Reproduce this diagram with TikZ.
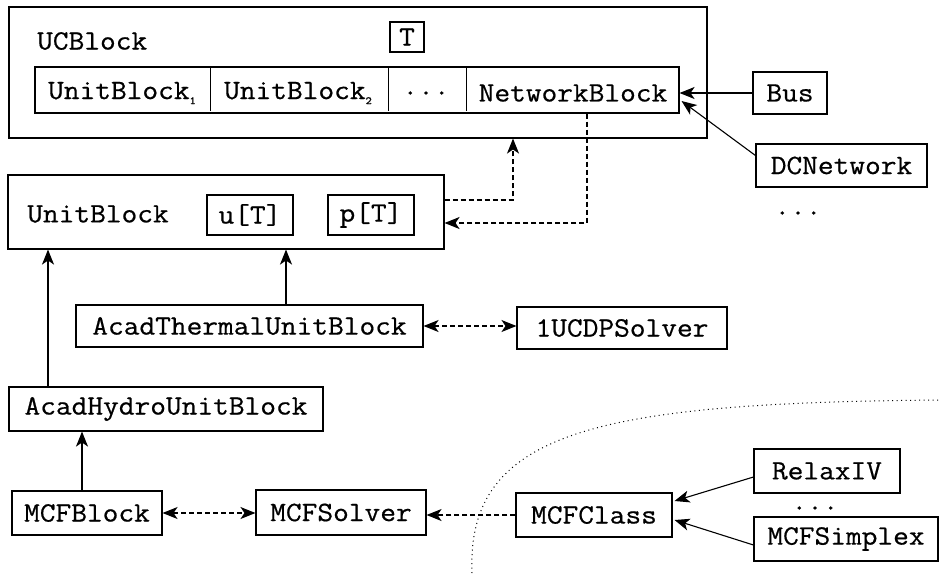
\documentclass[tikz,border=0pt]{standalone}
\usepackage{fontspec}
\newfontfamily\codefont[FakeStretch=1.09,FakeBold=0.6]{Latin Modern Mono}
\usetikzlibrary{arrows.meta,calc}
\tikzset{
  base/.style={font=\codefont\fontsize{28}{30}\selectfont, inner sep=0pt},
  box/.style={base, draw, line width=1.1pt, rectangle},
  lbl/.style={base},
  conn/.style={line width=1.1pt},
  arr/.style={conn, -{Stealth[length=15pt,width=12pt,inset=4pt]}},
  darr/.style={conn, {Stealth[length=15pt,width=12pt,inset=4pt]}-{Stealth[length=15pt,width=12pt,inset=4pt]}},
  dsh/.style={dash pattern=on 5pt off 3pt},
  sep/.style={line width=1pt, dash pattern=on 1pt off 3.5pt}
}
\newcommand{\sub}[1]{{\fontsize{11}{11}\selectfont\raisebox{-5pt}{#1}}}
\begin{document}
\begin{tikzpicture}[x=1pt,y=-1pt]
\useasboundingbox (0,0) rectangle (939,573);

% UCBlock container
\node[box, minimum width=698pt, minimum height=131pt] (ucb) at (358,72.5) {};
\node[lbl, anchor=west] (ucblbl) at (37,41) {UCBlock};
\node[box, minimum width=34pt, minimum height=30pt] (T) at (407,37) {T};
\node[box, minimum width=644pt, minimum height=46pt] (row) at (357,90) {};
\draw[line width=1pt] (210,67) -- (210,111) (388,67) -- (388,111) (466,67) -- (466,111);
\node[lbl] (ub1) at (122,93) {UnitBlock\sub{1}};
\node[lbl] (ub2) at (298,93) {UnitBlock\sub{2}};
\node[lbl] (rdots) at (426,93) {...};
\node[lbl] (nb) at (573,93) {NetworkBlock};

% network components
\node[box, minimum width=74pt, minimum height=42pt] (bus) at (790,93) {Bus};
\node[box, minimum width=171pt, minimum height=43pt] (dcn) at (841.5,165.5) {DCNetwork};
\node[lbl] (ndots) at (798,213) {...};

% UnitBlock
\node[box, minimum width=436pt, minimum height=74pt] (unit) at (226,212) {};
\node[lbl] (unitlbl) at (98,214) {UnitBlock};
\node[box, minimum width=86pt, minimum height=40pt] (uT) at (250,215) {u[T]};
\node[box, minimum width=86pt, minimum height=40pt] (pT) at (371,215) {p[T]};

% derived blocks and solvers
\node[box, minimum width=347pt, minimum height=42pt] (thermal) at (249.5,326) {AcadThermalUnitBlock};
\node[box, minimum width=210pt, minimum height=42pt] (ucdp) at (622,328) {1UCDPSolver};
\node[box, minimum width=314pt, minimum height=44pt] (hydro) at (166,409) {AcadHydroUnitBlock};
\node[box, minimum width=150pt, minimum height=44pt] (mcfb) at (87,513) {MCFBlock};
\node[box, minimum width=170pt, minimum height=45pt] (mcfs) at (341,512.5) {MCFSolver};
\node[box, minimum width=156pt, minimum height=44pt] (mcfc) at (594,515) {MCFClass};
\node[box, minimum width=146pt, minimum height=44pt] (relax) at (827,471) {RelaxIV};
\node[lbl] (mdots) at (815,508) {...};
\node[box, minimum width=184pt, minimum height=44pt] (simplex) at (846,539) {MCFSimplex};

% helper x positions
\coordinate (xa) at (513,0);
\coordinate (xb) at (587,0);
\coordinate (xc) at (286,0);
\coordinate (xd) at (48,0);
\coordinate (xe) at (82,0);

% connectors
\draw[arr] (bus.west) -- (bus.west -| row.east);
\draw[arr] ($(dcn.west)+(0,-10)$) -- ($(row.east)+(2,11)$);
\draw[arr, dsh] ($(unit.east)+(0,-12)$) -| (ucb.south -| xa);
\draw[arr, dsh] (row.south -| xb) |- ($(unit.east)+(0,11)$);
\draw[arr] (thermal.north -| xc) -- (unit.south -| xc);
\draw[arr] (hydro.north -| xd) -- (unit.south -| xd);
\draw[arr] (mcfb.north -| xe) -- (hydro.south -| xe);
\draw[darr, dsh] (thermal.east) -- (thermal.east -| ucdp.west);
\draw[darr, dsh] (mcfb.east) -- (mcfb.east -| mcfs.west);
\draw[arr, dsh] (mcfc.west) -- (mcfc.west -| mcfs.east);
\draw[arr] ($(relax.west)+(0,6)$) -- ($(mcfc.east)+(2,-14)$);
\draw[arr] ($(simplex.west)+(0,6)$) -- ($(mcfc.east)+(2,5)$);

% boundary of the external MCF library
\draw[sep] (472,573) .. controls (466,430) and (600,403) .. (939,400);
\end{tikzpicture}
\end{document}
